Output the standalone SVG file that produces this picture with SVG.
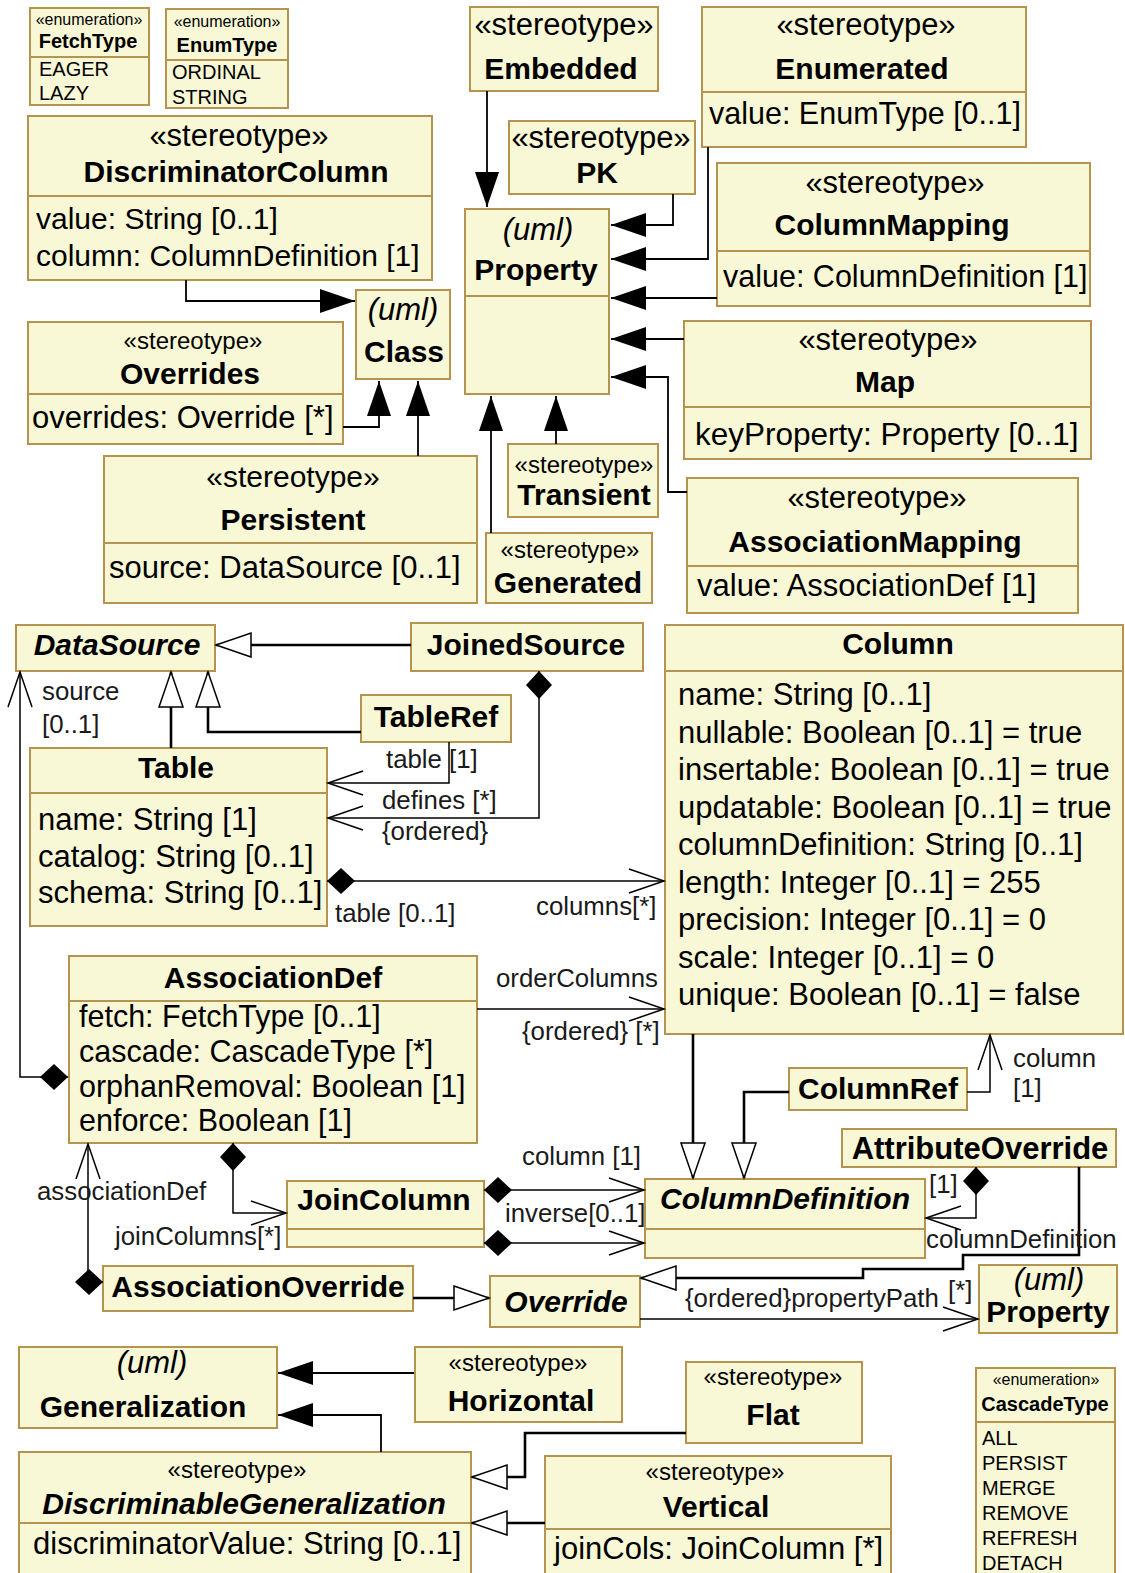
<svg xmlns="http://www.w3.org/2000/svg" width="1125" height="1573" viewBox="0 0 1125 1573">
<style>
.box{fill:#F8F8D6;stroke:#B5944F;stroke-width:2}
.sep{stroke:#B5944F;stroke-width:2}
text{font-family:"Liberation Sans",Arial,Helvetica,sans-serif;fill:#000}
.c{text-anchor:middle}
.nm{font-size:30px;font-weight:bold}
.it{font-style:italic}
.s31{font-size:31px}
.s24{font-size:24px}
.at{font-size:31px}
.lb{font-size:25.8px;fill:#1a1a1a}
.en{font-size:16px}
.enm{font-size:20px;font-weight:bold}
.li{font-size:20px}
.ext{fill:none;stroke:#000;stroke-width:1.8;marker-end:url(#ext)}
.gen{fill:none;stroke:#000;stroke-width:2.6;marker-end:url(#gen)}
.as{fill:none;stroke:#000;stroke-width:1.5;marker-end:url(#open)}
.cmp{marker-start:url(#dia)}
</style>
<defs>
<marker id="ext" markerUnits="userSpaceOnUse" markerWidth="38" markerHeight="28" viewBox="0 0 38 28" refX="36" refY="14" orient="auto">
<path d="M1,2 L36,14 L1,26 Z" fill="#000"/>
</marker>
<marker id="gen" markerUnits="userSpaceOnUse" markerWidth="40" markerHeight="30" viewBox="0 0 40 30" refX="37" refY="15" orient="auto">
<path d="M2,3 L37,15 L2,27 Z" fill="#fff" stroke="#000" stroke-width="1.5"/>
</marker>
<marker id="open" markerUnits="userSpaceOnUse" markerWidth="40" markerHeight="30" viewBox="0 0 40 30" refX="37" refY="15" orient="auto">
<path d="M2,3 L37,15 L2,27" fill="none" stroke="#000" stroke-width="1.5"/>
</marker>
<marker id="dia" markerUnits="userSpaceOnUse" markerWidth="32" markerHeight="30" viewBox="0 0 32 30" refX="1" refY="15" orient="auto">
<path d="M1,15 L15,2 L29,15 L15,28 Z" fill="#000"/>
</marker>
</defs>
<rect width="1125" height="1573" fill="#fff"/>

<g id="nodes">
<g id="FetchType">
<rect class="box" x="30" y="8" width="119" height="97"/>
<line class="sep" x1="30" y1="57" x2="149" y2="57"/>
<text class="en c" x="89" y="25">«enumeration»</text>
<text class="enm c" x="88" y="48">FetchType</text>
<text class="li" x="39" y="76">EAGER</text>
<text class="li" x="39" y="100">LAZY</text>
</g>
<g id="EnumType">
<rect class="box" x="166" y="9" width="122" height="99"/>
<line class="sep" x1="166" y1="60" x2="288" y2="60"/>
<text class="en c" x="227" y="27">«enumeration»</text>
<text class="enm c" x="227" y="52">EnumType</text>
<text class="li" x="172" y="79">ORDINAL</text>
<text class="li" x="172" y="104">STRING</text>
</g>
<g id="DiscriminatorColumn">
<rect class="box" x="28" y="116" width="404" height="164"/>
<line class="sep" x1="28" y1="196" x2="432" y2="196"/>
<text class="s31 c" x="239" y="146">«stereotype»</text>
<text class="nm c" x="236" y="182">DiscriminatorColumn</text>
<text class="at" x="36" y="229" style="font-size:30px">value: String [0..1]</text>
<text class="at" x="36" y="266" style="font-size:30px">column: ColumnDefinition [1]</text>
</g>
<g id="Embedded">
<rect class="box" x="470" y="7" width="188" height="84"/>
<text class="s31 c" x="564" y="35">«stereotype»</text>
<text class="nm c" x="561" y="79">Embedded</text>
</g>
<g id="Enumerated">
<rect class="box" x="702" y="7" width="324" height="140"/>
<line class="sep" x1="702" y1="92" x2="1026" y2="92"/>
<text class="s31 c" x="866" y="35">«stereotype»</text>
<text class="nm c" x="862" y="79">Enumerated</text>
<text class="at" x="709" y="124" style="font-size:30.5px">value: EnumType [0..1]</text>
</g>
<g id="PK">
<rect class="box" x="509" y="121" width="186" height="73"/>
<text class="s31 c" x="601" y="148">«stereotype»</text>
<text class="nm c" x="597" y="183">PK</text>
</g>
<g id="ColumnMapping">
<rect class="box" x="717" y="163" width="373" height="143"/>
<line class="sep" x1="717" y1="251" x2="1090" y2="251"/>
<text class="s31 c" x="895" y="193">«stereotype»</text>
<text class="nm c" x="892" y="235">ColumnMapping</text>
<text class="at" x="723" y="287" style="font-size:30.5px">value: ColumnDefinition [1]</text>
</g>
<g id="Property">
<rect class="box" x="465" y="209" width="144" height="185"/>
<line class="sep" x1="465" y1="296" x2="609" y2="296"/>
<text class="s31 c it" x="538" y="240">(uml)</text>
<text class="nm c" x="536" y="280">Property</text>
</g>
<g id="Class">
<rect class="box" x="356" y="290" width="94" height="89"/>
<text class="s31 c it" x="403" y="320">(uml)</text>
<text class="nm c" x="404" y="362">Class</text>
</g>
<g id="Overrides">
<rect class="box" x="28" y="322" width="315" height="122"/>
<line class="sep" x1="28" y1="394" x2="343" y2="394"/>
<text class="s24 c" x="193" y="349">«stereotype»</text>
<text class="nm c" x="190" y="384">Overrides</text>
<text class="at" x="32" y="428">overrides: Override [*]</text>
</g>
<g id="Map">
<rect class="box" x="684" y="321" width="407" height="138"/>
<line class="sep" x1="684" y1="407" x2="1091" y2="407"/>
<text class="s31 c" x="888" y="350">«stereotype»</text>
<text class="nm c" x="885" y="392">Map</text>
<text class="at" x="695" y="445" style="font-size:31.5px">keyProperty: Property [0..1]</text>
</g>
<g id="Persistent">
<rect class="box" x="104" y="456" width="373" height="147"/>
<line class="sep" x1="104" y1="543" x2="477" y2="543"/>
<text class="c" style="font-size:30px" x="293" y="487">«stereotype»</text>
<text class="nm c" x="293" y="530">Persistent</text>
<text class="at" x="109" y="578">source: DataSource [0..1]</text>
</g>
<g id="Transient">
<rect class="box" x="508" y="444" width="150" height="73"/>
<text class="s24 c" x="584" y="473">«stereotype»</text>
<text class="nm c" x="584" y="505">Transient</text>
</g>
<g id="Generated">
<rect class="box" x="486" y="533" width="166" height="70"/>
<text class="s24 c" x="570" y="558">«stereotype»</text>
<text class="nm c" x="568" y="593">Generated</text>
</g>
<g id="AssociationMapping">
<rect class="box" x="687" y="478" width="391" height="135"/>
<line class="sep" x1="687" y1="566" x2="1078" y2="566"/>
<text class="s31 c" x="877" y="508">«stereotype»</text>
<text class="nm c" x="875" y="552">AssociationMapping</text>
<text class="at" x="697" y="596">value: AssociationDef [1]</text>
</g>
<g id="DataSource">
<rect class="box" x="16" y="625" width="199" height="46"/>
<text class="nm c it" x="117" y="655">DataSource</text>
</g>
<g id="JoinedSource">
<rect class="box" x="411" y="623" width="232" height="48"/>
<text class="nm c" x="526" y="655">JoinedSource</text>
</g>
<g id="TableRef">
<rect class="box" x="361" y="695" width="150" height="47"/>
<text class="nm c" x="436" y="727">TableRef</text>
</g>
<g id="Table">
<rect class="box" x="30" y="748" width="297" height="178"/>
<line class="sep" x1="30" y1="793" x2="327" y2="793"/>
<text class="nm c" x="176" y="778">Table</text>
<text class="at" x="38" y="830">name: String [1]</text>
<text class="at" x="38" y="867">catalog: String [0..1]</text>
<text class="at" x="38" y="903">schema: String [0..1]</text>
</g>
<g id="Column">
<rect class="box" x="665" y="625" width="458" height="409"/>
<line class="sep" x1="665" y1="671" x2="1123" y2="671"/>
<text class="nm c" x="898" y="654">Column</text>
<text class="at" x="678" y="705">name: String [0..1]</text>
<text class="at" x="678" y="742.5">nullable: Boolean [0..1] = true</text>
<text class="at" x="678" y="780">insertable: Boolean [0..1] = true</text>
<text class="at" x="678" y="817.5">updatable: Boolean [0..1] = true</text>
<text class="at" x="678" y="855">columnDefinition: String [0..1]</text>
<text class="at" x="678" y="892.5">length: Integer [0..1] = 255</text>
<text class="at" x="678" y="930">precision: Integer [0..1] = 0</text>
<text class="at" x="678" y="967.5">scale: Integer [0..1] = 0</text>
<text class="at" x="678" y="1005">unique: Boolean [0..1] = false</text>
</g>
<g id="AssociationDef">
<rect class="box" x="69" y="956" width="408" height="187"/>
<line class="sep" x1="69" y1="1001" x2="477" y2="1001"/>
<text class="nm c" x="273" y="988">AssociationDef</text>
<text class="at" x="79" y="1027" style="font-size:30.5px">fetch: FetchType [0..1]</text>
<text class="at" x="79" y="1062" style="font-size:30.5px">cascade: CascadeType [*]</text>
<text class="at" x="79" y="1097" style="font-size:30.5px">orphanRemoval: Boolean [1]</text>
<text class="at" x="79" y="1131" style="font-size:30.5px">enforce: Boolean [1]</text>
</g>
<g id="ColumnRef">
<rect class="box" x="789" y="1068" width="178" height="42"/>
<text class="nm c" x="878" y="1099">ColumnRef</text>
</g>
<g id="AttributeOverride">
<rect class="box" x="842" y="1129" width="274" height="38"/>
<text class="nm c" style="font-size:31px" x="980" y="1159">AttributeOverride</text>
</g>
<g id="JoinColumn">
<rect class="box" x="287" y="1181" width="197" height="66"/>
<line class="sep" x1="287" y1="1229" x2="484" y2="1229"/>
<text class="nm c" x="384" y="1210">JoinColumn</text>
</g>
<g id="ColumnDefinition">
<rect class="box" x="645" y="1179" width="280" height="79"/>
<line class="sep" x1="645" y1="1229" x2="925" y2="1229"/>
<text class="nm c it" x="785" y="1209">ColumnDefinition</text>
</g>
<g id="AssociationOverride">
<rect class="box" x="103" y="1266" width="310" height="45"/>
<text class="nm c" x="258" y="1297">AssociationOverride</text>
</g>
<g id="Override">
<rect class="box" x="490" y="1276" width="150" height="51"/>
<text class="nm c it" x="566" y="1312">Override</text>
</g>
<g id="PropertyRef">
<rect class="box" x="979" y="1265" width="138" height="68"/>
<text class="s31 c it" x="1049" y="1290">(uml)</text>
<text class="nm c" x="1048" y="1322">Property</text>
</g>
<g id="Generalization">
<rect class="box" x="19" y="1347" width="258" height="81"/>
<text class="s31 c it" x="152" y="1373">(uml)</text>
<text class="nm c" x="143" y="1417">Generalization</text>
</g>
<g id="Horizontal">
<rect class="box" x="415" y="1347" width="207" height="75"/>
<text class="s24 c" x="518" y="1371">«stereotype»</text>
<text class="nm c" x="521" y="1411">Horizontal</text>
</g>
<g id="Flat">
<rect class="box" x="686" y="1362" width="176" height="81"/>
<text class="s24 c" x="773" y="1385">«stereotype»</text>
<text class="nm c" x="773" y="1425">Flat</text>
</g>
<g id="DiscriminableGeneralization">
<rect class="box" x="19" y="1452" width="452" height="130"/>
<line class="sep" x1="19" y1="1523" x2="471" y2="1523"/>
<text class="s24 c" x="237" y="1478">«stereotype»</text>
<text class="nm c it" x="244" y="1514">DiscriminableGeneralization</text>
<text class="at" x="33" y="1554">discriminatorValue: String [0..1]</text>
</g>
<g id="Vertical">
<rect class="box" x="545" y="1456" width="346" height="126"/>
<line class="sep" x1="545" y1="1529" x2="891" y2="1529"/>
<text class="s24 c" x="715" y="1480">«stereotype»</text>
<text class="nm c" x="716" y="1517">Vertical</text>
<text class="at" x="554" y="1559">joinCols: JoinColumn [*]</text>
</g>
<g id="CascadeType">
<rect class="box" x="976" y="1368" width="139" height="214"/>
<line class="sep" x1="976" y1="1422" x2="1115" y2="1422"/>
<text class="en c" x="1046" y="1385">«enumeration»</text>
<text class="enm c" x="1045" y="1411">CascadeType</text>
<text class="li" x="982" y="1445">ALL</text>
<text class="li" x="982" y="1470">PERSIST</text>
<text class="li" x="982" y="1495">MERGE</text>
<text class="li" x="982" y="1520">REMOVE</text>
<text class="li" x="982" y="1545">REFRESH</text>
<text class="li" x="982" y="1570">DETACH</text>
</g>
</g>

<g id="connectors">
<!-- extensions of metaclasses -->
<path class="ext" d="M487,91 V207"/>
<path class="ext" d="M673,194 V225 H611"/>
<path class="ext" d="M708,147 V259 H611"/>
<path class="ext" d="M717,298 H611"/>
<path class="ext" d="M684,339 H611"/>
<path class="ext" d="M687,492 H668 V377 H611"/>
<path class="ext" d="M556,444 V396"/>
<path class="ext" d="M491,533 V396"/>
<path class="ext" d="M186,280 V301 H355"/>
<path class="ext" d="M343,427 H379 V381"/>
<path class="ext" d="M418,456 V381"/>
<path class="ext" d="M414,1373 H278"/>
<path class="ext" d="M381,1452 V1415 H278"/>
<!-- generalizations -->
<path class="gen" d="M171,748 V672"/>
<path class="gen" d="M361,732 H208 V672"/>
<path class="gen" d="M411,645 H216"/>
<path class="gen" d="M693,1034 V1178"/>
<path class="gen" d="M789,1092 H744 V1178"/>
<path class="gen" d="M413,1298 H489"/>
<path class="gen" d="M1079,1167 V1255 H963 V1269 H863 V1278 H641"/>
<path class="gen" d="M686,1433 H525 V1477 H472"/>
<path class="gen" d="M545,1523 H472"/>
<!-- associations -->
<path class="as" d="M449,742 V783 H328"/>
<path class="as cmp" d="M539,671 V818 H328"/>
<path class="as cmp" d="M327,881 H664"/>
<path class="as cmp" d="M68,1077 H20 V672"/>
<path class="as" d="M477,1009 H664"/>
<path class="as cmp" d="M233,1143 V1213 H286"/>
<path class="as cmp" d="M484,1190 H644"/>
<path class="as cmp" d="M484,1243 H644"/>
<path class="as cmp" d="M103,1282 H88 V1144"/>
<path class="as" d="M967,1092 H990 V1035"/>
<path class="as cmp" d="M976,1167 V1218 H926"/>
<path class="as" d="M640,1319 H978"/>
<!-- association end labels -->
<text class="lb" x="42" y="700">source</text>
<text class="lb" x="42" y="733">[0..1]</text>
<text class="lb" x="386" y="768">table  [1]</text>
<text class="lb" x="382" y="809">defines [*]</text>
<text class="lb" x="382" y="840">{ordered}</text>
<text class="lb" x="335" y="922">table [0..1]</text>
<text class="lb" x="536" y="915">columns[*]</text>
<text class="lb" x="496" y="987">orderColumns</text>
<text class="lb" x="522" y="1040">{ordered} [*]</text>
<text class="lb" x="37" y="1200">associationDef</text>
<text class="lb" x="115" y="1245">joinColumns[*]</text>
<text class="lb" x="522" y="1165">column [1]</text>
<text class="lb" x="505" y="1222">inverse[0..1]</text>
<text class="lb" x="1013" y="1067">column</text>
<text class="lb" x="1013" y="1097">[1]</text>
<text class="lb" x="929" y="1193">[1]</text>
<text class="lb" x="926" y="1248">columnDefinition</text>
<text class="lb" x="685" y="1307">{ordered}propertyPath</text>
<text class="lb" x="948" y="1299">[*]</text>
</g>
</svg>
